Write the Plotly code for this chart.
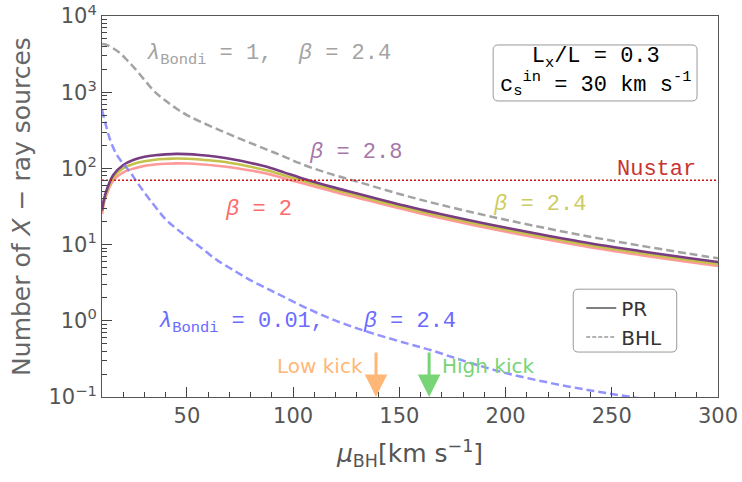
import numpy as np
import plotly.graph_objects as go

# ---------------- data ----------------
mu_pr = [10, 11, 12.2, 15.3, 20, 25, 30, 35, 40, 45, 50, 56, 64, 72, 80, 88, 96, 103, 110, 120, 131, 140,
         150, 160, 168.8, 192, 215, 239, 263, 286, 300]
n_beta28 = [28, 40, 52, 82, 111, 130, 142, 149, 153, 155, 154, 150, 142, 131, 118, 104, 88, 76, 66.5, 55.5, 46.2,
            39.6, 33.7, 28.9, 25.4, 18.5, 13.9, 10.5, 8.26, 6.67, 5.92]
n_beta24 = [27.2, 38.4, 49.4, 76, 101, 115, 124, 130, 133, 135, 134, 131, 125, 116, 105, 93.6, 80.5, 70.7,
            62.2, 52.2, 43.4, 37.2, 31.7, 27.2, 23.9, 17.4, 13.1, 9.87, 7.76, 6.27, 5.56]
n_beta20 = [25.2, 35.6, 45.8, 69.7, 88.8, 100, 108, 112.5, 115.2, 116.3, 115.8, 113.6, 108.6, 102.2, 93.8,
            84.8, 73.9, 65.4, 57.9, 48.6, 40.7, 35.2, 29.9, 25.7, 22.6, 16.4, 12.3, 9.32, 7.33, 5.92, 5.26]

mu_bhl1 = [10, 12, 15, 18.5, 22, 25, 30, 35, 40, 45, 50, 56, 64, 72, 80, 88, 96, 103, 115, 131, 150, 168.8,
           192, 215, 239, 263, 286, 300]
n_bhl1 = [4300, 4200, 3800, 3250, 2600, 2120, 1450, 1000, 770, 610, 500, 415, 330, 265, 215, 175, 142, 117,
          89, 66, 46.1, 33.6, 23.7, 17.3, 12.8, 9.73, 7.62, 6.6]

mu_bhl001 = [10, 12, 14, 17, 20, 23, 26, 30, 35, 40, 45, 50, 56, 64, 72, 80, 88, 95, 106, 122, 137, 153,
             165, 180, 199, 220, 240, 259, 280, 300]
n_bhl001 = [590, 355, 230, 150, 115, 91, 69, 48, 31.6, 21.4, 16.2, 12.6, 9.4, 6.3, 4.6, 3.4, 2.63, 2.1, 1.48,
            0.955, 0.69, 0.51, 0.41, 0.30, 0.21, 0.155, 0.122, 0.1, 0.082, 0.068]

nustar_level = 70
low_kick = 139
high_kick = 164
x_ticks = [50, 100, 150, 200, 250, 300]
y_ticks = [0.1, 1, 10, 100, 1000, 10000]
y_ticktext = ["10<sup>−1</sup>", "10<sup>0</sup>", "10<sup>1</sup>", "10<sup>2</sup>",
              "10<sup>3</sup>", "10<sup>4</sup>"]

# ---------------- figure ----------------
PURPLE = "#773d80"
YELLOW = "#c4c24a"
PINK = "#ff9a9a"
GRAY = "#a3a3a3"
BLUE = "rgba(120,120,255,0.8)"

fig = go.Figure()
fig.add_trace(go.Scatter(x=mu_pr, y=n_beta20, mode="lines", line=dict(color=PINK, width=2.6, shape="spline"),
                         showlegend=False))
fig.add_trace(go.Scatter(x=mu_pr, y=n_beta24, mode="lines", line=dict(color=YELLOW, width=2.6, shape="spline"),
                         showlegend=False))
fig.add_trace(go.Scatter(x=mu_pr, y=n_beta28, mode="lines", line=dict(color=PURPLE, width=2.6, shape="spline"),
                         showlegend=False))
fig.add_trace(go.Scatter(x=mu_bhl1, y=n_bhl1, mode="lines",
                         line=dict(color=GRAY, width=2.5, dash="8px,4px", shape="spline"), showlegend=False))
fig.add_trace(go.Scatter(x=mu_bhl001, y=n_bhl001, mode="lines",
                         line=dict(color=BLUE, width=2.5, dash="8px,4px", shape="spline"), showlegend=False))
fig.add_trace(go.Scatter(x=[10, 300], y=[nustar_level, nustar_level], mode="lines",
                         line=dict(color="#cc1111", width=1.6, dash="2px,2px"), showlegend=False))

# legend dummies
fig.add_trace(go.Scatter(x=[None], y=[None], mode="lines", name="PR", line=dict(color="#555555", width=1.5)))
fig.add_trace(go.Scatter(x=[None], y=[None], mode="lines", name="BHL",
                         line=dict(color="#999999", width=1.5, dash="4px,2px")))

MONO = "Liberation Mono"
SANS = "DejaVu Sans"

def lab(x, y, text, color, size=22, family=MONO, **kw):
    fig.add_annotation(x=x, y=np.log10(y), xref="x", yref="y", text=text, showarrow=False,
                       xanchor="left", yanchor="middle",
                       font=dict(family=family, size=size, color=color), **kw)

lab(30.2, 3080, "<i>λ</i><sub>Bondi</sub> = 1,  <i>β</i> = 2.4", GRAY)
lab(106.3, 164, "<i>β</i> = 2.8", "#a677a8")
lab(66.9, 29, "<i>β</i> = 2", "#ff6a6a")
lab(193.3, 34, "<i>β</i> = 2.4", "#cccc60")
lab(251.5, 97, "Nustar", "#c83232")
lab(35.8, 0.935, "<i>λ</i><sub>Bondi</sub> = 0.01,   <i>β</i> = 2.4", "#6a6aff")

# kick arrows
for xk, col in [(low_kick, "#ffb778"), (high_kick, "#77d477")]:
    fig.add_annotation(x=xk, y=-1, xref="x", yref="y", text="", showarrow=True, ax=0, ay=-46,
                       arrowhead=2, arrowsize=1.5, arrowwidth=3, arrowcolor=col)
fig.add_annotation(x=low_kick, y=np.log10(0.255), xref="x", yref="y", text="Low kick", showarrow=False,
                   xanchor="right", xshift=-11, font=dict(family=SANS, size=20, color="#ffb778"))
fig.add_annotation(x=high_kick, y=np.log10(0.255), xref="x", yref="y", text="High kick", showarrow=False,
                   xanchor="left", xshift=11, font=dict(family=SANS, size=20, color="#77d477"))

# parameter box
def rrect(x0, y0, x1, y1, rx=0.008, ry=0.013):
    return (f"M {x0+rx},{y0} L {x1-rx},{y0} Q {x1},{y0} {x1},{y0+ry} L {x1},{y1-ry} "
            f"Q {x1},{y1} {x1-rx},{y1} L {x0+rx},{y1} Q {x0},{y1} {x0},{y1-ry} "
            f"L {x0},{y0+ry} Q {x0},{y0} {x0+rx},{y0} Z")

fig.add_shape(type="path", xref="paper", yref="paper", path=rrect(0.635, 0.777, 0.966, 0.924),
              line=dict(color="#999999", width=1), fillcolor="white", layer="above")
fig.add_annotation(x=0.8005, y=0.852, xref="paper", yref="paper", showarrow=False, align="center",
                   xanchor="center", yanchor="middle",
                   text="L<sub>x</sub>/L = 0.3<br>c<sub>s</sub><sup>in</sup> = 30 km s<sup>-1</sup>",
                   font=dict(family=MONO, size=22, color="black"))
fig.add_shape(type="path", xref="paper", yref="paper", path=rrect(0.765, 0.118, 0.933, 0.283),
              line=dict(color="#999999", width=1), fillcolor="rgba(0,0,0,0)", layer="above")

fig.update_layout(
    width=742, height=482,
    margin=dict(l=102, r=24, t=16, b=85),
    plot_bgcolor="white", paper_bgcolor="white",
    legend=dict(x=0.778, y=0.285, xanchor="left", yanchor="top", bgcolor="rgba(0,0,0,0)",
                font=dict(family=SANS, size=20, color="#333333"), tracegroupgap=0, itemwidth=30),
    font=dict(family=SANS),
)
fig.update_xaxes(
    range=[10, 300], tickvals=x_ticks, ticks="inside", ticklen=10, tickwidth=1, tickcolor="#444444",
    minor=dict(dtick=10, ticks="inside", ticklen=5, tickcolor="#444444"),
    showline=True, linecolor="#555555", linewidth=1, mirror=True, showgrid=False, zeroline=False,
    automargin=False,
    tickfont=dict(family=SANS, size=21, color="#555555"),
    title=dict(text="<i>μ</i><sub>BH</sub>[km s<sup>−1</sup>]", font=dict(family=SANS, size=25, color="#555555"),
               standoff=17),
)
fig.update_yaxes(
    type="log", range=[-1, 4], tickvals=y_ticks, ticktext=y_ticktext, ticks="inside", ticklen=10,
    tickcolor="#444444",
    minor=dict(dtick="D1", ticks="inside", ticklen=5, tickcolor="#444444", showgrid=False),
    showline=True, linecolor="#555555", linewidth=1, mirror=True, showgrid=False, zeroline=False,
    automargin=False,
    tickfont=dict(family=SANS, size=21, color="#555555"),
    title=dict(text="Number of <i>X</i> − ray sources", font=dict(family=SANS, size=25, color="#666666"),
               standoff=10),
)

fig.write_html("out.html", config={"displayModeBar": False},
               post_script="document.body.style.margin='0';")
